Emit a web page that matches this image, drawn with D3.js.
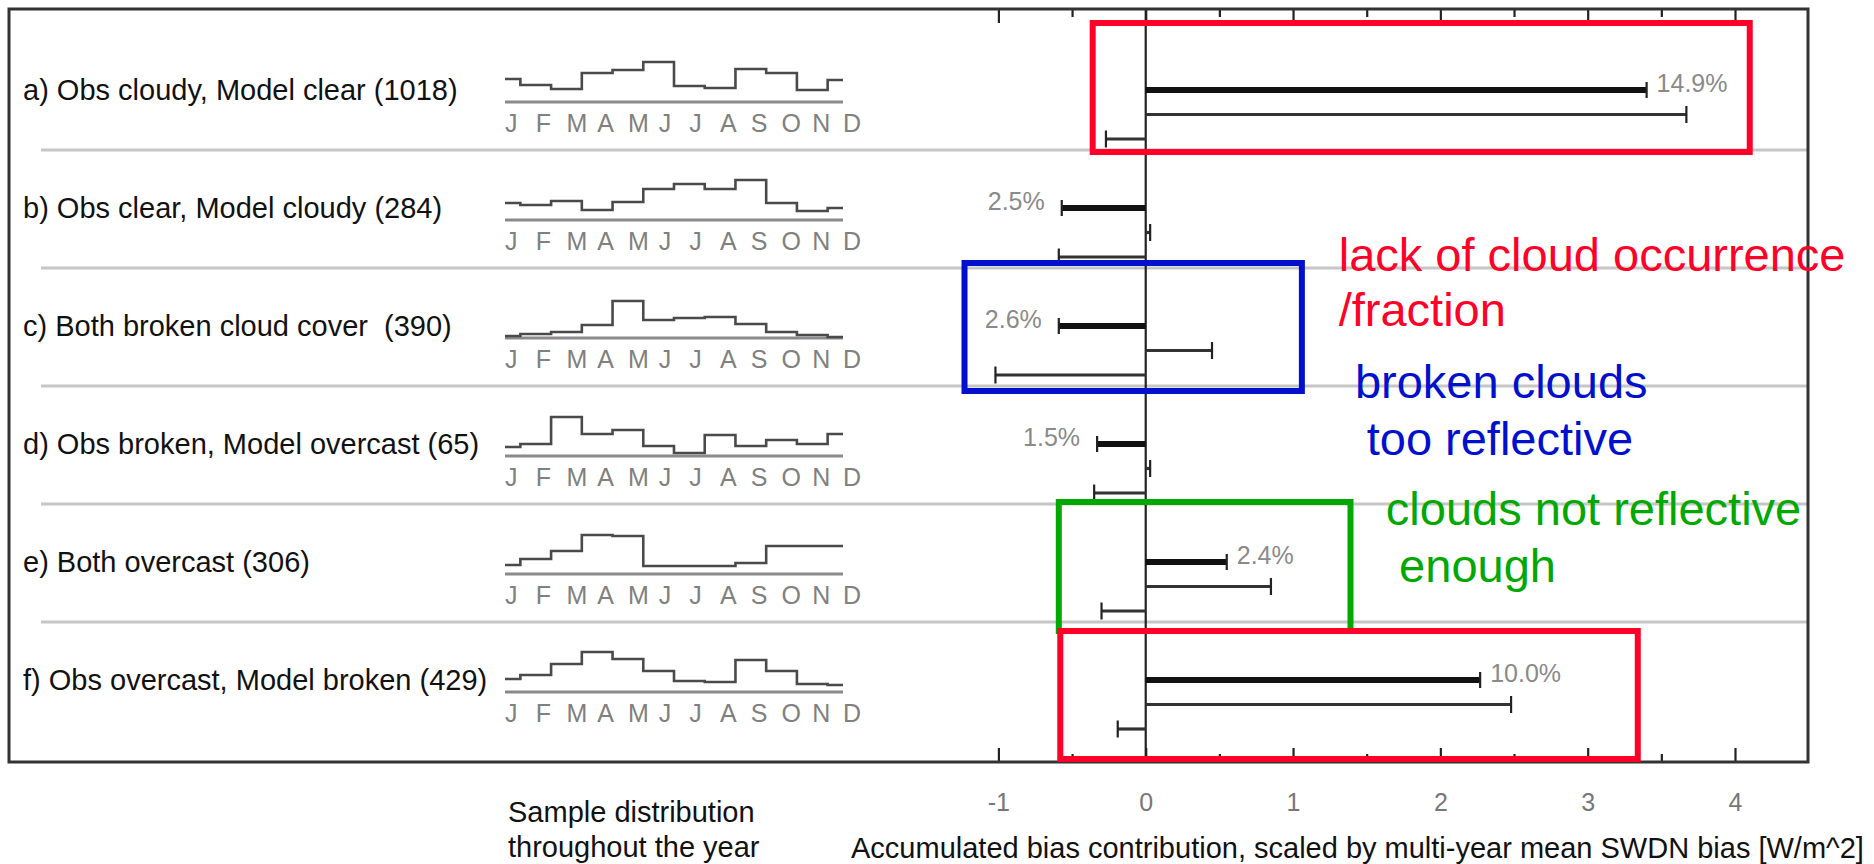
<!DOCTYPE html>
<html>
<head>
<meta charset="utf-8">
<script src="https://cdn.jsdelivr.net/npm/d3@7"></script>
<style>
  html, body { margin: 0; padding: 0; background: #fff; }
  svg { display: block; }
  text { font-family: "Liberation Sans", Arial, sans-serif; }
</style>
</head>
<body>
<svg id="chart" width="1874" height="864"></svg>
<script>
// ---- data -------------------------------------------------------------
const rowIds = ["a", "b", "c", "d", "e", "f"];
const rowLabels = [
  "a) Obs cloudy, Model clear (1018)",
  "b) Obs clear, Model cloudy (284)",
  "c) Both broken cloud cover  (390)",
  "d) Obs broken, Model overcast (65)",
  "e) Both overcast (306)",
  "f) Obs overcast, Model broken (429)"
];
const monthLetters = ["J", "F", "M", "A", "M", "J", "J", "A", "S", "O", "N", "D"];

// relative number of samples per month, one array per category
const samplesA = [23, 17, 13, 29, 32, 40, 16, 14, 33, 29, 12, 22];
const samplesB = [17, 15, 19, 10, 18, 31, 36, 31, 40, 17, 9, 12];
const samplesC = [2, 4, 6, 13, 37, 18, 20, 21, 14, 6, 3, 1];
const samplesD = [9, 12, 39, 22, 26, 10, 3, 21, 10, 16, 12, 22];
const samplesE = [9, 15, 23, 39, 38, 8, 8, 8, 11, 28, 28, 28];
const samplesF = [13, 17, 28, 40, 33, 21, 11, 10, 32, 21, 8, 7];

// accumulated bias contributions [W/m^2], three per category
const totalBias = [3.40, -0.57, -0.59, -0.33, 0.55, 2.27];
const partABias = [3.67, 0.03, 0.45, 0.03, 0.85, 2.48];
const partBBias = [-0.27, -0.59, -1.02, -0.35, -0.30, -0.19];
const shareLabels = ["14.9%", "2.5%", "2.6%", "1.5%", "2.4%", "10.0%"];

const majorTicks = [-1, 0, 1, 2, 3, 4];
const majorTickLabels = ["-1", "0", "1", "2", "3", "4"];
const minorTicks = [-0.5, 0.5, 1.5, 2.5, 3.5];

// ---- layout -----------------------------------------------------------
const svg = d3.select("#chart");
const frame = { left: 9, top: 9, right: 1808, bottom: 762 };

const x = d3.scaleLinear().domain([-1, 4]).range([998.4, 1735]);
const row = d3.scaleBand().domain(rowIds).range([32, 740]);
const sub = d3.scalePoint().domain(["total", "partA", "partB"]).range([58, 107]);
const monthX = d3.scalePoint().domain(d3.range(12)).range([505, 843]);
const sampleY = d3.scaleLinear().domain([0, 40]).range([0, 40]);

const sampleRows = [samplesA, samplesB, samplesC, samplesD, samplesE, samplesF];
const seriesList = [
  { key: "total", values: totalBias, width: 6, color: "#111", cap: 16 },
  { key: "partA", values: partABias, width: 3.2, color: "#333", cap: 17 },
  { key: "partB", values: partBBias, width: 3.2, color: "#333", cap: 17 }
];

// row separators
svg.append("g")
  .selectAll("line")
  .data(rowIds.slice(1))
  .join("line")
  .attr("x1", 41).attr("x2", frame.right)
  .attr("y1", d => row(d)).attr("y2", d => row(d))
  .attr("stroke", "#c6c6c6").attr("stroke-width", 3);

// zero line
svg.append("line")
  .attr("x1", x(0)).attr("x2", x(0))
  .attr("y1", frame.top).attr("y2", frame.bottom)
  .attr("stroke", "#222").attr("stroke-width", 2.2);

// tick marks pointing inward from the top and bottom of the frame
function tickMarks(axisGen, y, values, size) {
  const g = svg.append("g")
    .attr("transform", `translate(0,${y})`)
    .call(axisGen(x).tickValues(values).tickSize(size).tickFormat(""));
  g.select(".domain").remove();
  g.selectAll(".tick line").attr("stroke", "#222").attr("stroke-width", 2.2);
}
tickMarks(d3.axisBottom, frame.top, majorTicks, 14);
tickMarks(d3.axisBottom, frame.top, minorTicks, 8);
tickMarks(d3.axisTop, frame.bottom, majorTicks, 14);
tickMarks(d3.axisTop, frame.bottom, minorTicks, 8);

// tick labels below the frame
const labelAxis = svg.append("g")
  .attr("transform", `translate(0,${frame.bottom})`)
  .call(d3.axisBottom(x).tickValues(majorTicks).tickSize(0).tickPadding(31)
    .tickFormat((d, i) => majorTickLabels[i]));
labelAxis.select(".domain").remove();
labelAxis.selectAll("text")
  .attr("font-family", "'Liberation Sans', Arial, sans-serif")
  .attr("font-size", 25).attr("fill", "#777");

// frame
svg.append("rect")
  .attr("x", frame.left).attr("y", frame.top)
  .attr("width", frame.right - frame.left).attr("height", frame.bottom - frame.top)
  .attr("fill", "none").attr("stroke", "#333").attr("stroke-width", 3);

// category labels
svg.append("g")
  .selectAll("text")
  .data(rowIds)
  .join("text")
  .attr("x", 23)
  .attr("y", d => row(d) + 68)
  .attr("font-size", 29)
  .attr("fill", "#111")
  .style("white-space", "pre")
  .text((d, i) => rowLabels[i]);

// monthly sample distributions
const sparkLine = d3.line()
  .x((d, i) => monthX(i))
  .y(d => -sampleY(d))
  .curve(d3.curveStep);

rowIds.forEach((id, i) => {
  const g = svg.append("g").attr("transform", `translate(0,${row(id) + 70})`);
  g.append("line")
    .attr("x1", monthX(0)).attr("x2", monthX(11))
    .attr("y1", 0).attr("y2", 0)
    .attr("stroke", "#8a8a8a").attr("stroke-width", 3);
  g.append("path")
    .attr("d", sparkLine(sampleRows[i]))
    .attr("fill", "none").attr("stroke", "#4a4a4a").attr("stroke-width", 2.6);
  g.selectAll("text")
    .data(monthLetters)
    .join("text")
    .attr("x", (d, j) => monthX(j))
    .attr("y", 30)
    .attr("font-size", 25)
    .attr("fill", "#808080")
    .text(d => d);
});

// bias bars with end caps
seriesList.forEach(s => {
  const g = svg.append("g");
  g.selectAll("line.bar")
    .data(rowIds)
    .join("line")
    .attr("class", "bar")
    .attr("x1", x(0)).attr("x2", (d, i) => x(s.values[i]))
    .attr("y1", d => row(d) + sub(s.key)).attr("y2", d => row(d) + sub(s.key))
    .attr("stroke", s.color).attr("stroke-width", s.width);
  g.selectAll("line.cap")
    .data(rowIds)
    .join("line")
    .attr("class", "cap")
    .attr("x1", (d, i) => x(s.values[i])).attr("x2", (d, i) => x(s.values[i]))
    .attr("y1", d => row(d) + sub(s.key) - s.cap / 2)
    .attr("y2", d => row(d) + sub(s.key) + s.cap / 2)
    .attr("stroke", "#222").attr("stroke-width", 2.2);
});

// share of samples next to the main bar
svg.append("g")
  .selectAll("text")
  .data(rowIds)
  .join("text")
  .attr("x", (d, i) => totalBias[i] > 0 ? x(totalBias[i]) + 10 : x(totalBias[i]) - 17)
  .attr("y", d => row(d) + sub("total") + 2)
  .attr("text-anchor", (d, i) => totalBias[i] > 0 ? "start" : "end")
  .attr("font-size", 25)
  .attr("fill", "#8a8a8a")
  .text((d, i) => shareLabels[i]);

// axis captions
const caption = svg.append("g").attr("fill", "#111").attr("font-size", 29);
caption.append("text").attr("x", 508).attr("y", 822).text("Sample distribution");
caption.append("text").attr("x", 508).attr("y", 857).text("throughout the year");
caption.append("text").attr("x", 851).attr("y", 858)
  .text("Accumulated bias contribution, scaled by multi-year mean SWDN bias [W/m^2]");

// highlighted groups and their interpretation
const boxes = [
  { x0: -0.36, x1: 4.10, rowFrom: "a", rowTo: "a", top: -9, bottom: 2, color: "#ff0028" },
  { x0: -1.23, x1: 1.06, rowFrom: "c", rowTo: "c", top: -5, bottom: 5, color: "#0010cc" },
  { x0: -0.59, x1: 1.39, rowFrom: "e", rowTo: "e", top: -2, bottom: 9, color: "#00a800" },
  { x0: -0.58, x1: 3.34, rowFrom: "f", rowTo: "f", top: 9, bottom: 19, color: "#ff0028" }
];
svg.append("g")
  .selectAll("rect")
  .data(boxes)
  .join("rect")
  .attr("x", d => x(d.x0))
  .attr("y", d => row(d.rowFrom) + d.top)
  .attr("width", d => x(d.x1) - x(d.x0))
  .attr("height", d => row(d.rowTo) + row.bandwidth() + d.bottom - row(d.rowFrom) - d.top)
  .attr("fill", "none")
  .attr("stroke", d => d.color)
  .attr("stroke-width", 6);

const notes = [
  { text: "lack of cloud occurrence", xv: 1.31, rowId: "b", dy: 121, color: "#ff0028" },
  { text: "/fraction", xv: 1.31, rowId: "c", dy: 58, color: "#ff0028" },
  { text: "broken clouds", xv: 1.42, rowId: "c", dy: 130, color: "#0010cc" },
  { text: "too reflective", xv: 1.50, rowId: "d", dy: 69, color: "#0010cc" },
  { text: "clouds not reflective", xv: 1.63, rowId: "e", dy: 21, color: "#00a800" },
  { text: "enough", xv: 1.72, rowId: "e", dy: 78, color: "#00a800" }
];
svg.append("g")
  .selectAll("text")
  .data(notes)
  .join("text")
  .attr("x", d => x(d.xv))
  .attr("y", d => row(d.rowId) + d.dy)
  .attr("font-size", 47)
  .attr("fill", d => d.color)
  .text(d => d.text);
</script>
</body>
</html>
